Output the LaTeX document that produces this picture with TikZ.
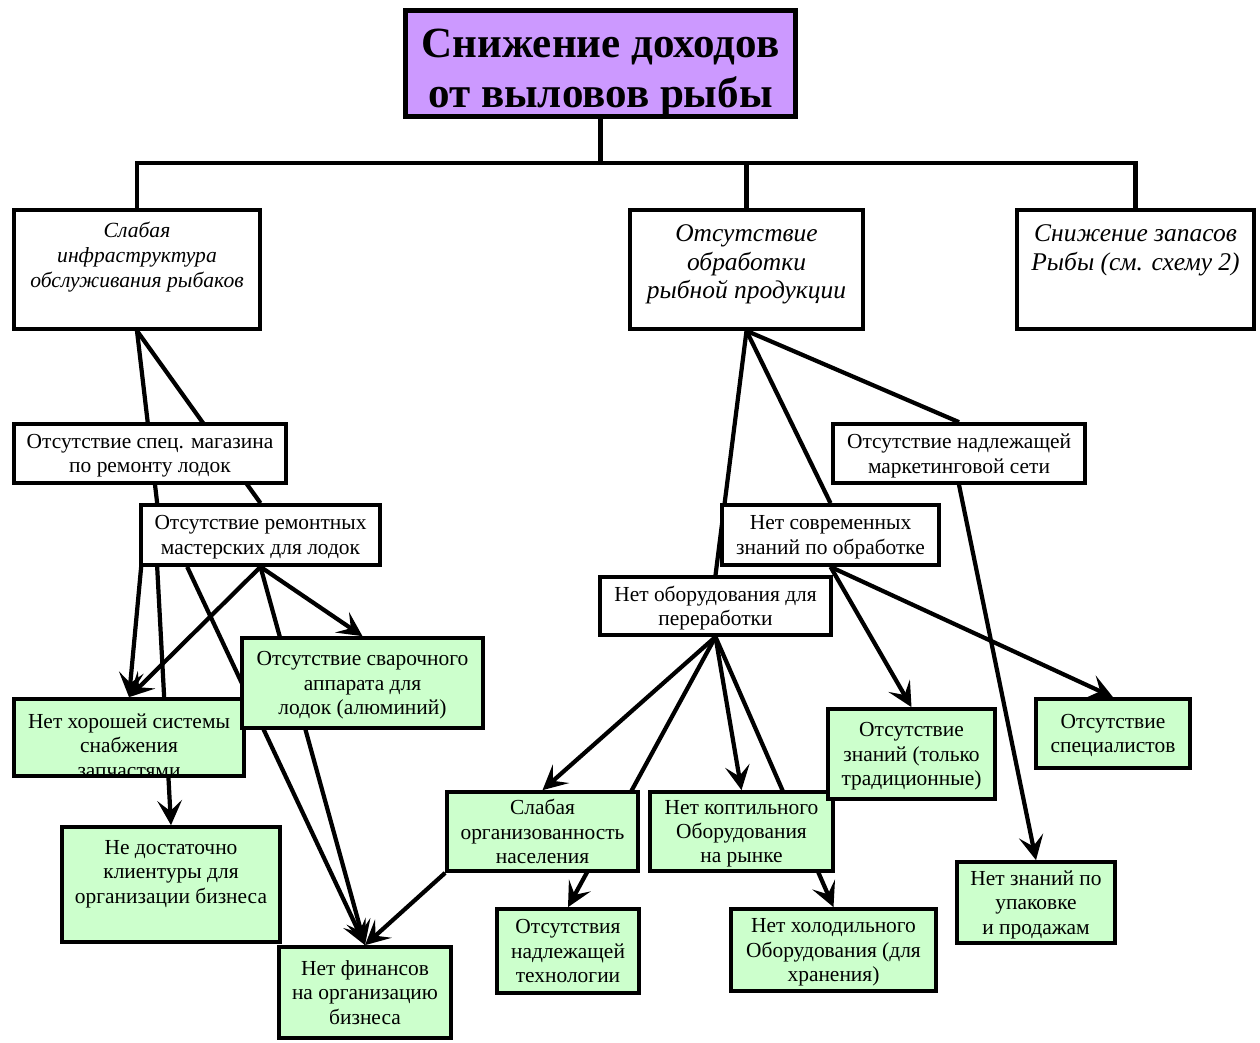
\documentclass[tikz,border=0pt]{standalone}
\usepackage{fontspec}
\setmainfont{Liberation Serif}
\usetikzlibrary{arrows.meta,calc,backgrounds}

\definecolor{violetfill}{HTML}{CC99FF}
\definecolor{greenfill}{HTML}{CCFFCC}

\begin{document}
\begin{tikzpicture}[x=0.02cm, y=-0.02cm,
  causebox/.style = {shape=rectangle, draw, line width=2.4pt, fill=white,
    align=center, inner sep=1pt, font=\fontsize{12.2}{13.9}\selectfont,
    text depth=-6pt},
  greenbox/.style = {causebox, fill=greenfill},
  lbl/.style = {align=center, inner sep=0pt, anchor=north},
  link/.style = {line width=2.4pt},
  arrowlink/.style = {link, -{Stealth[length=14pt,width=14pt,inset=6pt]}}]
  \useasboundingbox (0,0) rectangle (1260,1043);

  \node[causebox, fill=violetfill, line width=3pt, minimum width=7.8cm, minimum height=2.12cm,
    label={[lbl, yshift=-0.42cm, font=\fontsize{24.5}{28.3}\selectfont\bfseries]north:Снижение доходов\\от выловов рыбы}]
    (income) at (600.5,63.5) {};

  \node[causebox, minimum width=4.91cm, minimum height=2.37cm,
    label={[lbl, yshift=-0.28cm, font=\fontsize{12.3}{14.2}\selectfont\itshape]north:Слабая\\инфраструктура\\обслуживания рыбаков}]
    (infra) at (137,269.5) {};
  \node[causebox, minimum width=4.65cm, minimum height=2.37cm,
    label={[lbl, yshift=-0.32cm, font=\fontsize{14.5}{16.4}\selectfont\itshape]north:Отсутствие\\обработки\\рыбной продукции}]
    (processing) at (746.5,269.5) {};
  \node[causebox, minimum width=4.73cm, minimum height=2.37cm,
    label={[lbl, yshift=-0.32cm, font=\fontsize{14.5}{16.4}\selectfont\itshape]north:Снижение запасов\\Рыбы (см. схему 2)}]
    (stocks) at (1135.5,269.5) {};

  \node[causebox, minimum width=5.43cm, minimum height=1.17cm] (shop) at (150,453.5)
    {Отсутствие спец. магазина\\по ремонту лодок};
  \node[causebox, minimum width=4.77cm, minimum height=1.19cm] (workshop) at (260.5,535)
    {Отсутствие ремонтных\\мастерских для лодок};
  \node[greenbox, minimum width=4.59cm, minimum height=1.53cm,
    label={[lbl, yshift=-0.32cm, font=\fontsize{12.2}{13.9}\selectfont]north:Нет хорошей системы\\снабжения\\запчастями}]
    (parts) at (129,737.5) {};
  \node[greenbox, minimum width=4.81cm, minimum height=1.79cm] (welder) at (362.5,683)
    {Отсутствие сварочного\\аппарата для\\лодок (алюминий)};
  \node[greenbox, minimum width=4.35cm, minimum height=2.29cm,
    label={[lbl, yshift=-0.30cm, font=\fontsize{12.2}{13.9}\selectfont]north:Не достаточно\\клиентуры для\\организации бизнеса}]
    (clients) at (171,884.5) {};
  \node[greenbox, minimum width=3.43cm, minimum height=1.81cm] (finance) at (365,992.5)
    {Нет финансов\\на организацию\\бизнеса};

  \node[causebox, minimum width=5.03cm, minimum height=1.17cm] (market) at (959,453.5)
    {Отсутствие надлежащей\\маркетинговой сети};
  \node[causebox, minimum width=4.33cm, minimum height=1.19cm] (modern) at (830.5,535)
    {Нет современных\\знаний по обработке};
  \node[causebox, minimum width=4.61cm, minimum height=1.15cm] (equip) at (715.5,606)
    {Нет оборудования для\\переработки};
  \node[greenbox, minimum width=3.81cm, minimum height=1.57cm] (weakorg) at (542.5,831.5)
    {Слабая\\организованность\\населения};
  \node[greenbox, minimum width=3.65cm, minimum height=1.57cm] (smoke) at (741.5,831.5)
    {Нет коптильного\\Оборудования\\на рынке};
  \node[greenbox, minimum width=2.83cm, minimum height=1.67cm] (tech) at (568,951)
    {Отсутствия\\надлежащей\\технологии};
  \node[greenbox, minimum width=4.09cm, minimum height=1.63cm] (fridge) at (833.5,950)
    {Нет холодильного\\Оборудования (для\\хранения)};
  \node[greenbox, minimum width=3.33cm, minimum height=1.79cm] (tradknow) at (911.5,754)
    {Отсутствие\\знаний (только\\традиционные)};
  \node[greenbox, minimum width=3.07cm, minimum height=1.37cm] (experts) at (1113,733.5)
    {Отсутствие\\специалистов};
  \node[greenbox, minimum width=3.15cm, minimum height=1.61cm] (packing) at (1036,902.5)
    {Нет знаний по\\упаковке\\и продажам};

  \coordinate (bus) at (600.5,163);

  \begin{pgfonlayer}{background}
    \fill[white] (0,0) rectangle (1260,1043);
    \draw[link] (income.south) -- (bus);
    \draw[link] (infra.north) |- (bus) -| (stocks.north);
    \draw[link] (processing.north) -- (processing.north |- bus);

    \draw[link] (infra.south) -- ($(workshop.north west)+(18,0)$);
    \draw[link] (infra.south) -- (workshop.north);
    \draw[arrowlink] ($(workshop.south west)+(2,0)$) -- (parts.north);
    \draw[arrowlink] ($(workshop.south west)+(18,0)$) -- (clients.north);
    \draw[arrowlink] ($(workshop.south west)+(48,0)$) -- (finance.north);
    \draw[arrowlink] (workshop.south) -- (parts.north);
    \draw[arrowlink] (workshop.south) -- (finance.north);
    \draw[arrowlink] (workshop.south) -- (welder.north);
    \draw[arrowlink] (weakorg.south west) -- (finance.north);

    \draw[link] (processing.south) -- (equip.north);
    \draw[link] (processing.south) -- (modern.north);
    \draw[link] (processing.south) -- (market.north);
    \draw[arrowlink] (market.south) -- (packing.north);
    \draw[arrowlink] (modern.south) -- (tradknow.north);
    \draw[arrowlink] (modern.south) -- (experts.north);
    \draw[arrowlink] (equip.south) -- (weakorg.north);
    \draw[arrowlink] (equip.south) -- (tech.north);
    \draw[arrowlink] (equip.south) -- (smoke.north);
    \draw[arrowlink] (equip.south) -- (fridge.north);
  \end{pgfonlayer}
\end{tikzpicture}
\end{document}
